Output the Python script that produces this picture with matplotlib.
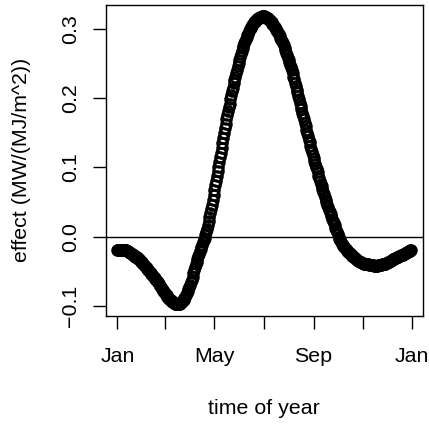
import numpy as np
import matplotlib
matplotlib.use("Agg")
import matplotlib.pyplot as plt

plt.rcParams['font.family'] = ['Liberation Sans', 'DejaVu Sans']

# Seasonal effect, one value per day of year (in units of 0.001 MW/(MJ/m^2))
effect_milli = [
    -20, -20, -19, -19, -19, -19, -19, -19, -19, -20, -20,
    -20, -21, -21, -22, -23,
    -24, -24, -25, -26, -27,
    -28, -29, -29, -30, -31,
    -32, -33, -34, -36, -37,
    -38, -40, -41, -42, -44,
    -45, -47, -48, -50, -51,
    -52, -54, -55, -57, -58,
    -60, -61, -63, -64, -66,
    -68, -69, -71, -73, -75,
    -77, -78, -80, -82, -84,
    -85, -87, -88, -90, -91,
    -92, -93, -94, -95, -96,
    -97, -97, -98, -98,
    -98, -98, -97, -96,
    -95, -94, -92, -91,
    -89, -87, -85, -82,
    -79, -76, -73, -70,
    -66, -62, -58, -53, -48,
    -44, -40, -36, -32, -28,
    -25, -21, -18, -15, -12,
    -8, -5, -2, 2, 6,
    11, 17, 23, 28, 34,
    40, 46, 53, 60, 67,
    74, 80, 87, 94, 101,
    108, 115, 121, 128, 135,
    142, 149, 156, 162, 169,
    175, 181, 187, 192, 198,
    204, 210, 215, 221, 226,
    231, 236, 241, 246, 251,
    255, 259, 264, 268, 272,
    275, 279, 282, 285, 288,
    291, 293, 296, 299, 301,
    303, 305, 307, 309, 310,
    311, 312, 314, 315, 316,
    316, 317, 317, 318, 318,
    318, 318, 317, 317, 316,
    315, 314, 313, 312, 310,
    309, 307, 306, 304, 302,
    300, 298, 296, 294,
    292, 289, 287, 284, 282, 279,
    276, 272, 269, 265, 262,
    258, 255, 252, 248, 245,
    240, 236, 231, 227, 222,
    217, 212, 208, 203, 198,
    193, 188, 184, 179, 174,
    169, 164, 159, 154, 149,
    145, 140, 136, 131, 127,
    122, 118, 114, 109, 105, 101,
    97, 93, 88, 84,
    80, 76, 73, 69, 65,
    61, 57, 53,
    50, 46, 43, 39,
    36, 32, 29, 26,
    22, 19, 16, 13,
    10, 7, 3, 0,
    -3, -5, -8, -10,
    -12, -14, -15, -17,
    -18, -19, -21, -22,
    -23, -24, -26, -27,
    -28, -29, -30, -31, -32, -33,
    -34, -35, -35, -36,
    -37, -37, -38, -38, -39,
    -39, -39, -40, -40, -40,
    -40, -41, -41, -41, -41,
    -41, -41, -42, -42, -42, -42,
    -42, -41, -41, -41, -41,
    -41, -40, -40, -40,
    -39, -39, -38, -38, -37,
    -36, -36, -35, -35, -34,
    -33, -33, -32, -31, -31,
    -30, -30, -29, -28, -28,
    -27, -27, -26, -26,
    -25, -24, -24, -23,
    -22, -22, -21, -21, -20, -20,
]
effect = np.array(effect_milli) / 1000.0
day_of_year = np.arange(len(effect))

month_ticks = [0, 59, 120, 181, 243, 304, 365]
month_labels = ["Jan", "", "May", "", "Sep", "", "Jan"]
y_ticks = [-0.1, 0.0, 0.1, 0.2, 0.3]

fig = plt.figure(figsize=(4.29, 4.24), dpi=100)
ax = fig.add_axes([0.2464, 0.2547, 0.7396, 0.7342])

ax.plot(day_of_year, effect, linestyle="none", marker="o", markersize=7.2,
        markerfacecolor="none", markeredgecolor="black", markeredgewidth=1.8)
ax.axhline(0, color="black", linewidth=1.0, zorder=5)

# R-style 4% padding around the data range
xr = day_of_year.max() - day_of_year.min()
ax.set_xlim(day_of_year.min() - 0.04 * xr, day_of_year.max() + 0.04 * xr)
yr = effect.max() - effect.min()
ax.set_ylim(effect.min() - 0.04 * yr, effect.max() + 0.04 * yr)

ax.set_xticks(month_ticks)
ax.set_xticklabels(month_labels)
ax.set_yticks(y_ticks)
ax.set_yticklabels([f"{v:.1f}".replace("-", "\u2212") for v in y_ticks],
                   rotation=90, va="center")

for s in ax.spines.values():
    s.set_linewidth(1.0)
ax.tick_params(axis="both", length=9.4, width=1.0, labelsize=15.4, direction="out")
ax.tick_params(axis="x", pad=13)
ax.tick_params(axis="y", pad=9)

ax.set_xlabel("time of year", fontsize=15.4, labelpad=24)
ax.set_ylabel("effect (MW/(MJ/m^2))", fontsize=15.4, labelpad=22)

fig.savefig("out.png", dpi=100)
